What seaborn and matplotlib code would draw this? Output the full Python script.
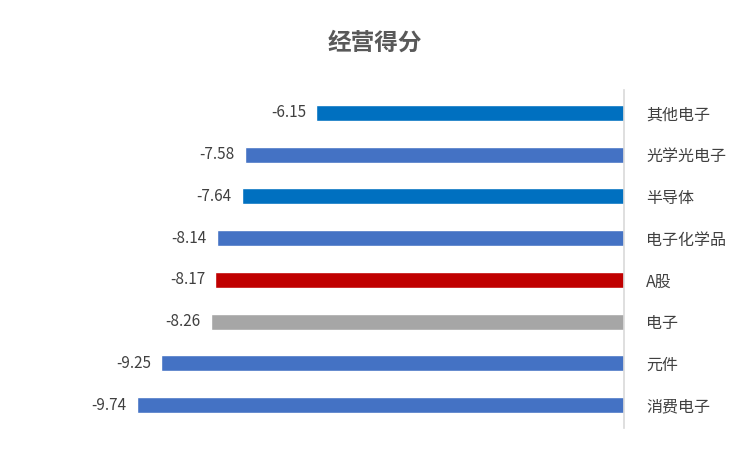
import matplotlib
matplotlib.use("Agg")
import matplotlib.pyplot as plt
import seaborn as sns
import pandas as pd

categories = ["其他电子", "光学光电子", "半导体", "电子化学品", "A股", "电子", "元件", "消费电子"]
values = [-6.15, -7.58, -7.64, -8.14, -8.17, -8.26, -9.25, -9.74]
colors = ["#0070C0", "#4472C4", "#0070C0", "#4472C4", "#C00000", "#A6A6A6", "#4472C4", "#4472C4"]

sns.set_theme(style="white")
plt.rcParams['font.family'] = ['Noto Sans CJK SC', 'DejaVu Sans']

df = pd.DataFrame({"cat": categories, "val": values})
fig = plt.figure(figsize=(7.5, 4.5), dpi=100)
ax = fig.add_axes([60/750, 1-428/450, 564/750, 338/450])
sns.barplot(data=df, x="val", y="cat", hue="cat", palette=colors, legend=False,
            width=0.38, ax=ax, orient="h", saturation=1)
ax.set_xlim(-11.27, 0)
ax.set_ylim(7.55, -0.55)
for i, v in enumerate(values):
    ax.text(v - 0.2, i, f"{v:.2f}", ha="right", va="center", fontsize=11, color="#404040")
ax.yaxis.tick_right()
ax.tick_params(axis="y", length=0, pad=16, labelsize=11.5, labelcolor="#404040")
ax.set_xticks([])
ax.set_xlabel("")
ax.set_ylabel("")
for s in ["top", "left", "bottom"]:
    ax.spines[s].set_visible(False)
ax.spines["right"].set_color("#D9D9D9")
ax.spines["right"].set_linewidth(1.2)
fig.text(375/750, 1-43/450, "经营得分", ha="center", va="center", fontsize=17,
         fontweight="bold", color="#595959")
fig.savefig("out.png", dpi=100)
